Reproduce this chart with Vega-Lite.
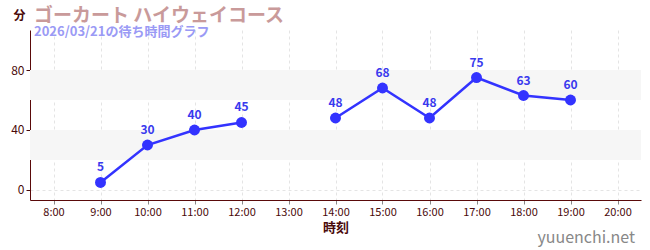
{
  "$schema": "https://vega.github.io/schema/vega-lite/v6.json",
  "width": 611,
  "height": 170,
  "autosize": "none",
  "padding": {"left": 30, "top": 30, "right": 9, "bottom": 50},
  "config": {
    "font": "Noto Sans CJK JP",
    "view": {"stroke": null}
  },
  "title": {
    "text": "ゴーカート ハイウェイコース",
    "subtitle": "2026/03/21の待ち時間グラフ",
    "anchor": "start",
    "frame": "group",
    "dx": 4,
    "offset": -30,
    "fontSize": 19,
    "fontWeight": "bold",
    "color": "#c99a9a",
    "subtitleFontSize": 13,
    "subtitleFontWeight": "bold",
    "subtitleColor": "#9a9af5",
    "subtitlePadding": 0
  },
  "layer": [
    {
      "data": {"values": [{"lo": 20, "hi": 40}, {"lo": 60, "hi": 80}]},
      "mark": {"type": "rect", "color": "#f6f6f6"},
      "encoding": {
        "y": {
          "field": "lo", "type": "quantitative",
          "scale": {"domain": [-6.67, 106.67], "nice": false, "zero": false},
          "axis": {
            "values": [0, 20, 40, 60, 80, 100],
            "labelOverlap": false,
            "title": "分",
            "titleAngle": 0, "titleX": -11, "titleY": -8,
            "titleFontSize": 12, "titleColor": "#4a0a0a",
            "labelFontSize": 12, "labelColor": "#4a0a0a",
            "tickColor": "#4a0a0a", "tickSize": 4,
            "domainColor": "#5a0a0a",
            "gridColor": "#e4e4e4", "gridDash": [3, 3]
          }
        },
        "y2": {"field": "hi"}
      }
    },
    {
      "data": {"values": [
        {"time": "2026-03-21T09:00", "wait": 5, "part": "morning"},
        {"time": "2026-03-21T10:00", "wait": 30, "part": "morning"},
        {"time": "2026-03-21T11:00", "wait": 40, "part": "morning"},
        {"time": "2026-03-21T12:00", "wait": 45, "part": "morning"},
        {"time": "2026-03-21T14:00", "wait": 48, "part": "afternoon"},
        {"time": "2026-03-21T15:00", "wait": 68, "part": "afternoon"},
        {"time": "2026-03-21T16:00", "wait": 48, "part": "afternoon"},
        {"time": "2026-03-21T17:00", "wait": 75, "part": "afternoon"},
        {"time": "2026-03-21T18:00", "wait": 63, "part": "afternoon"},
        {"time": "2026-03-21T19:00", "wait": 60, "part": "afternoon"}
      ]},
      "encoding": {
        "x": {
          "field": "time", "type": "temporal",
          "scale": {"domain": [
            {"year": 2026, "month": 3, "date": 21, "hours": 7, "minutes": 30},
            {"year": 2026, "month": 3, "date": 21, "hours": 20, "minutes": 30}
          ]},
          "axis": {
            "title": "時刻",
            "titleFontSize": 13, "titleColor": "#4a0a0a",
            "format": "%-H:%M",
            "labelFontSize": 11, "labelColor": "#4a0a0a",
            "tickColor": "#888888", "tickSize": 4,
            "domainColor": "#5a0a0a",
            "gridColor": "#e4e4e4", "gridDash": [3, 3]
          }
        },
        "y": {"field": "wait", "type": "quantitative"}
      },
      "layer": [
        {
          "mark": {"type": "line", "color": "#3333ff", "strokeWidth": 2.5},
          "encoding": {"detail": {"field": "part"}}
        },
        {
          "mark": {"type": "point", "filled": true, "opacity": 1, "size": 120, "color": "#3333ff"}
        },
        {
          "mark": {"type": "text", "dy": -15, "fontSize": 12, "fontWeight": "bold", "color": "#3a3aee"},
          "encoding": {"text": {"field": "wait", "type": "quantitative"}}
        }
      ]
    },
    {
      "data": {"values": [{"label": "yuuenchi.net", "time": "2026-03-21T20:30", "pos": -32}]},
      "mark": {"type": "text", "align": "right", "dx": -6, "fontSize": 16, "color": "#888888"},
      "encoding": {
        "x": {"field": "time", "type": "temporal"},
        "y": {"field": "pos", "type": "quantitative"},
        "text": {"field": "label"}
      }
    }
  ]
}
